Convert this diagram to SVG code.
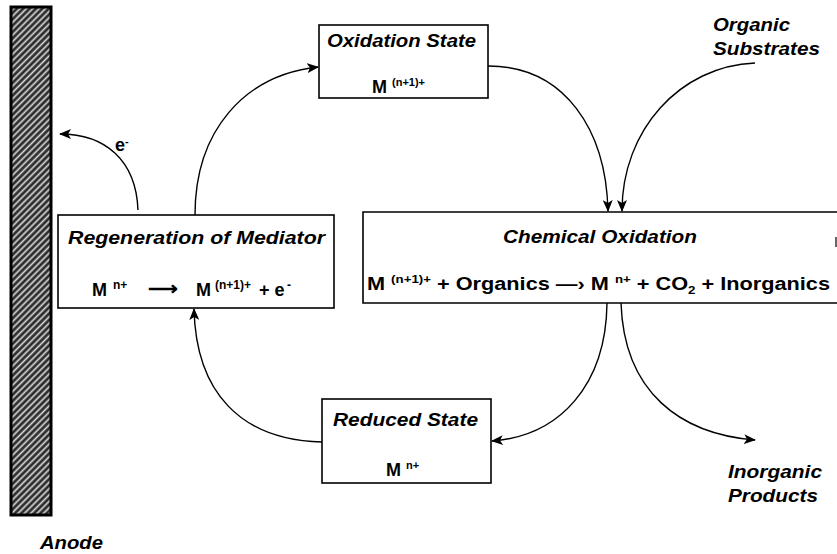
<svg xmlns="http://www.w3.org/2000/svg" width="837" height="554" viewBox="0 0 837 554">
<style>
.box{fill:#fff;stroke:#000;stroke-width:1.6}
.ttl{font-family:"Liberation Sans",Arial,sans-serif;font-weight:bold;font-style:italic;font-size:18px;fill:#000}
.eq{font-family:"Liberation Sans",Arial,sans-serif;font-weight:bold;font-size:18px;fill:#000}
.sup{font-size:11px}
.sup2{font-size:12px}
.lbl{font-family:"Liberation Sans",Arial,sans-serif;font-weight:bold;font-style:italic;font-size:18px;fill:#000}
.conn{fill:none;stroke:#000;stroke-width:1.4}
</style>
<defs>
<pattern id="hatch" width="4.5" height="4.5" patternUnits="userSpaceOnUse" patternTransform="rotate(-45)">
<rect width="4.5" height="4.5" fill="#2a2a2a"/>
<line x1="0" y1="2.25" x2="4.5" y2="2.25" stroke="#d8d8d8" stroke-width="1.7"/>
</pattern>
<marker id="ah" viewBox="0 0 12 10" refX="11" refY="5" markerWidth="12" markerHeight="10" markerUnits="userSpaceOnUse" orient="auto">
<path d="M0,0 L12,5 L0,10 L3,5 Z" fill="#000"/>
</marker>
</defs>

<g id="anode">
<rect x="11" y="7" width="40" height="508" fill="url(#hatch)" stroke="#000" stroke-width="3"/>
<text class="lbl" x="40" y="549" textLength="63" lengthAdjust="spacingAndGlyphs">Anode</text>
</g>

<g id="connectors">
<path class="conn" d="M138,210 C136,160 105,134 60,134" marker-end="url(#ah)"/>
<path class="conn" d="M195,215 C195,130 245,75 318,67" marker-end="url(#ah)"/>
<path class="conn" d="M488,66 C565,66 606,130 608,211" marker-end="url(#ah)"/>
<path class="conn" d="M755,63 C680,66 622,130 622,211" marker-end="url(#ah)"/>
<path class="conn" d="M607,303 C606,385 560,436 492,441" marker-end="url(#ah)"/>
<path class="conn" d="M621,303 C624,392 680,434 755,440" marker-end="url(#ah)"/>
<path class="conn" d="M322,442 C240,440 196,392 194,309" marker-end="url(#ah)"/>
<text class="eq" x="115" y="151" font-size="15">e<tspan class="sup" dy="-6">-</tspan></text>
</g>

<g id="oxidation-state">
<rect class="box" x="319" y="25" width="169" height="73"/>
<text class="ttl" x="327" y="47" textLength="149" lengthAdjust="spacingAndGlyphs">Oxidation State</text>
<text class="eq" x="372" y="93">M <tspan class="sup" dy="-7">(n+1)+</tspan></text>
</g>

<g id="regeneration">
<rect class="box" x="58" y="215" width="276" height="93"/>
<text class="ttl" x="68" y="244" textLength="257" lengthAdjust="spacingAndGlyphs">Regeneration of Mediator</text>
<text class="eq" y="296"><tspan x="92">M</tspan><tspan class="sup2" x="113" y="289">n+</tspan><tspan x="148" y="295" textLength="30" lengthAdjust="spacingAndGlyphs">⟶</tspan><tspan x="196" y="296">M</tspan><tspan class="sup2" x="215" y="289">(n+1)+</tspan><tspan x="259" y="296">+ e</tspan><tspan class="sup2" x="287" y="289">-</tspan></text>
</g>

<g id="chemical-oxidation">
<path class="box" d="M845,212 L363,212 L363,303 L845,303"/>
<line x1="836" y1="237" x2="836" y2="247" stroke="#000" stroke-width="1.2"/>
<text class="ttl" x="503" y="243" textLength="194" lengthAdjust="spacingAndGlyphs">Chemical Oxidation</text>
<text class="eq" x="367" y="290" textLength="463" lengthAdjust="spacingAndGlyphs">M <tspan class="sup" dy="-7">(n+1)+</tspan><tspan dy="7"> + Organics —› M </tspan><tspan class="sup" dy="-7">n+</tspan><tspan dy="7"> + CO</tspan><tspan class="sup" dy="4">2</tspan><tspan dy="-4"> + Inorganics</tspan></text>
</g>

<g id="reduced-state">
<rect class="box" x="322" y="399" width="169" height="84"/>
<text class="ttl" x="333" y="426" textLength="145" lengthAdjust="spacingAndGlyphs">Reduced State</text>
<text class="eq" x="386" y="476">M <tspan class="sup" dy="-7">n+</tspan></text>
</g>

<g id="organic-substrates">
<text class="lbl" x="713" y="31" textLength="77" lengthAdjust="spacingAndGlyphs">Organic</text>
<text class="lbl" x="713" y="55" textLength="107" lengthAdjust="spacingAndGlyphs">Substrates</text>
</g>

<g id="inorganic-products">
<text class="lbl" x="728" y="478" textLength="94" lengthAdjust="spacingAndGlyphs">Inorganic</text>
<text class="lbl" x="728" y="502" textLength="90" lengthAdjust="spacingAndGlyphs">Products</text>
</g>
</svg>
